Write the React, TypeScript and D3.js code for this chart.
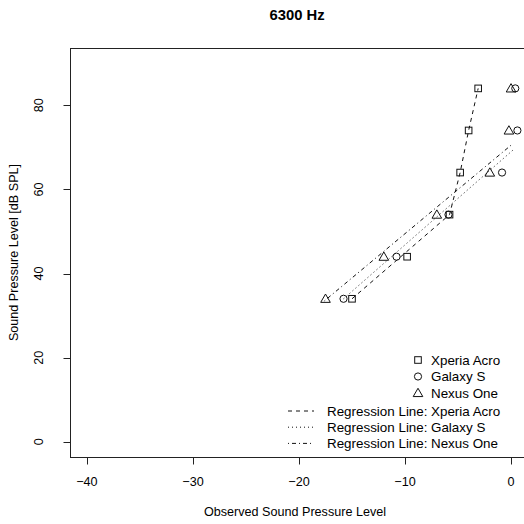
import React, { useEffect, useRef } from 'react';
import * as d3 from 'd3';

// measured levels (dB SPL) and observed values per phone
const splLevels = [34, 44, 54, 64, 74, 84];
const xperiaObs = [-15.0, -9.8, -5.8, -4.8, -4.0, -3.1];
const galaxyObs = [-15.8, -10.8, -5.9, -0.85, 0.6, 0.4];
const nexusObs = [-17.5, -12.0, -7.0, -2.0, -0.2, 0.0];

// regression lines
const xperiaFitX = [-15.0, -5.8, -4.8, -4.0, -3.1];
const xperiaFitY = [34, 54, 64, 74, 84];
const galaxyFitX = [-15.8, 0.3];
const galaxyFitY = [34, 69.6];
const nexusFitX = [-17.6, 0.0];
const nexusFitY = [33.5, 70.5];

const xTicks = [-40, -30, -20, -10, 0];
const yTicks = [0, 20, 40, 60, 80];

const FONT = '"Liberation Sans", Arial, Helvetica, sans-serif';

const App = () => {
  const svgRef = useRef(null);

  useEffect(() => {
    const svg = d3.select(svgRef.current);
    svg.selectAll('*').remove();

    const left = 70, right = 528, top = 48, bottom = 457;

    const x = d3.scaleLinear().domain([-41.6, 1.6]).range([left, right]);
    const y = d3.scaleLinear().domain([-3.6, 93.6]).range([bottom, top]);

    // title
    svg.append('text')
      .attr('x', 297).attr('y', 20)
      .attr('text-anchor', 'middle')
      .attr('font-family', FONT).attr('font-weight', 'bold').attr('font-size', 14.8)
      .text('6300 Hz');

    // box
    svg.append('rect')
      .attr('x', left + 0.5).attr('y', top + 0.5)
      .attr('width', right - left).attr('height', bottom - top)
      .attr('fill', 'none').attr('stroke', '#222');

    // x axis
    const gx = svg.append('g').attr('transform', `translate(0,${bottom + 0.5})`);
    gx.append('line')
      .attr('x1', x(-40)).attr('x2', x(0))
      .attr('stroke', '#222');
    gx.selectAll('.tick').data(xTicks).enter().append('line')
      .attr('x1', d => Math.round(x(d)) + 0.5).attr('x2', d => Math.round(x(d)) + 0.5)
      .attr('y1', 0).attr('y2', 7).attr('stroke', '#222');
    gx.selectAll('text').data(xTicks).enter().append('text')
      .attr('x', d => x(d)).attr('y', 28)
      .attr('text-anchor', 'middle')
      .attr('font-family', FONT).attr('font-size', 12.6)
      .text(d => (d < 0 ? '\u2212' + Math.abs(d) : String(d)));

    // y axis
    const gy = svg.append('g').attr('transform', `translate(${left + 0.5},0)`);
    gy.append('line')
      .attr('y1', y(0)).attr('y2', y(80))
      .attr('stroke', '#222');
    gy.selectAll('.tick').data(yTicks).enter().append('line')
      .attr('y1', d => Math.round(y(d)) + 0.5).attr('y2', d => Math.round(y(d)) + 0.5)
      .attr('x1', 0).attr('x2', -7).attr('stroke', '#222');
    gy.selectAll('text').data(yTicks).enter().append('text')
      .attr('transform', d => `translate(-32,${y(d)}) rotate(-90)`)
      .attr('text-anchor', 'middle')
      .attr('dy', '0.35em')
      .attr('font-family', FONT).attr('font-size', 12.6)
      .text(d => String(d));

    // axis labels
    svg.append('text')
      .attr('x', 295).attr('y', 516)
      .attr('text-anchor', 'middle')
      .attr('font-family', FONT).attr('font-size', 12.6)
      .text('Observed Sound Pressure Level');
    svg.append('text')
      .attr('transform', `translate(18,${(top + bottom) / 2}) rotate(-90)`)
      .attr('text-anchor', 'middle')
      .attr('font-family', FONT).attr('font-size', 12.6)
      .text('Sound Pressure Level [dB SPL]');

    const plot = svg.append('g');

    // regression lines
    const line = d3.line<[number, number]>().x(d => x(d[0])).y(d => y(d[1]));
    const fits = [
      { xs: xperiaFitX, ys: xperiaFitY, dash: '4,4' },
      { xs: galaxyFitX, ys: galaxyFitY, dash: '1,3' },
      { xs: nexusFitX, ys: nexusFitY, dash: '1,3,4,3' },
    ];
    fits.forEach(f => {
      plot.append('path')
        .attr('d', line(f.xs.map((v, i) => [v, f.ys[i]] as [number, number])))
        .attr('fill', 'none').attr('stroke', '#111')
        .attr('stroke-width', 1).attr('stroke-dasharray', f.dash);
    });

    // point symbols
    const drawSym = (g, kind, cx, cy) => {
      if (kind === 'square') {
        g.append('rect')
          .attr('x', cx - 3.3).attr('y', cy - 3.3).attr('width', 6.6).attr('height', 6.6)
          .attr('fill', 'none').attr('stroke', '#111');
      } else if (kind === 'circle') {
        g.append('circle')
          .attr('cx', cx).attr('cy', cy).attr('r', 3.6)
          .attr('fill', 'none').attr('stroke', '#111');
      } else {
        const s = d3.symbol().type(d3.symbolTriangle).size(40)();
        g.append('path')
          .attr('d', s)
          .attr('transform', `translate(${cx},${cy + 0.8})`)
          .attr('fill', 'none').attr('stroke', '#111');
      }
    };

    const series = [
      { obs: xperiaObs, kind: 'square' },
      { obs: galaxyObs, kind: 'circle' },
      { obs: nexusObs, kind: 'triangle' },
    ];
    series.forEach(s => {
      s.obs.forEach((v, i) => drawSym(plot, s.kind, x(v), y(splLevels[i])));
    });

    // legend: points
    const names = ['Xperia Acro', 'Galaxy S', 'Nexus One'];
    const lg = svg.append('g');
    names.forEach((n, i) => {
      const ly = 360 + i * 16.5;
      drawSym(lg, series[i].kind, 418, ly);
      lg.append('text')
        .attr('x', 431).attr('y', ly).attr('dy', '0.35em')
        .attr('font-family', FONT).attr('font-size', 13.4)
        .text(n);
    });
    // legend: lines
    names.forEach((n, i) => {
      const ly = 411 + i * 16.2;
      lg.append('line')
        .attr('x1', 288).attr('x2', 314)
        .attr('y1', ly).attr('y2', ly)
        .attr('stroke', '#111').attr('stroke-dasharray', fits[i].dash);
      lg.append('text')
        .attr('x', 327).attr('y', ly).attr('dy', '0.35em')
        .attr('font-family', FONT).attr('font-size', 13.4)
        .text('Regression Line:');
      lg.append('text')
        .attr('x', 431).attr('y', ly).attr('dy', '0.35em')
        .attr('font-family', FONT).attr('font-size', 13.4)
        .text(n);
    });
  }, []);

  return (
    <svg ref={svgRef} width={524} height={524}
      style={{ position: 'absolute', left: 0, top: 0, background: '#fff' }} />
  );
};

export default App;
